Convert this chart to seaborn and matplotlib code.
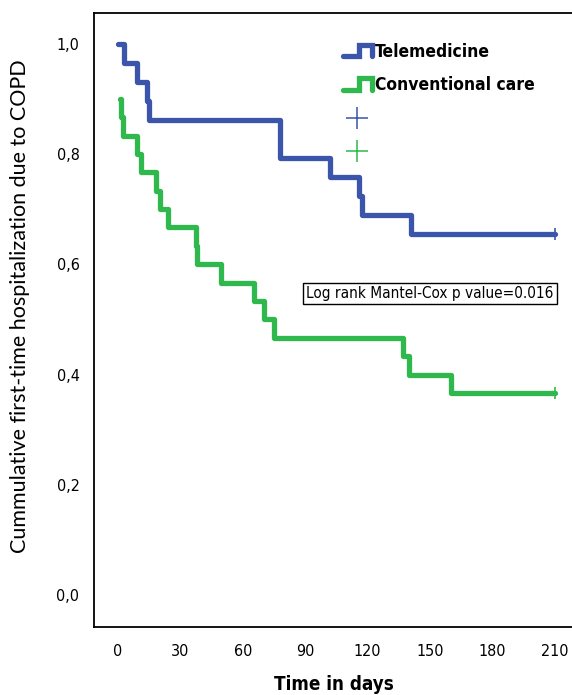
import numpy as np
import pandas as pd
import matplotlib
matplotlib.use("Agg")
import matplotlib.pyplot as plt
import seaborn as sns
from matplotlib.lines import Line2D
from matplotlib.legend_handler import HandlerBase

# Kaplan-Meier step values
tele_days = [0, 3, 9, 14, 15, 78, 102, 116, 117.5, 141, 210]
tele_surv = [1.0, 0.966, 0.931, 0.897, 0.862, 0.793, 0.759, 0.724, 0.690, 0.655, 0.655]
conv_days = [1, 1.5, 2.5, 9, 11, 18, 20, 24, 37.5, 38, 49.5, 65.5, 70, 75, 137, 140, 160, 210]
conv_surv = [0.9, 0.867, 0.833, 0.8, 0.767, 0.733, 0.7, 0.667, 0.633, 0.6, 0.567,
             0.533, 0.5, 0.467, 0.433, 0.4, 0.367, 0.367]
groups = ["Telemedicine", "Conventional care"]
colors = ["#3b55aa", "#2fb84b"]
x_ticks = [0, 30, 60, 90, 120, 150, 180, 210]
y_ticks = [0.0, 0.2, 0.4, 0.6, 0.8, 1.0]
y_ticklabels = ["0,0", "0,2", "0,4", "0,6", "0,8", "1,0"]
pvalue_text = "Log rank Mantel-Cox p value=0.016"

df = pd.concat([
    pd.DataFrame({"day": tele_days, "surv": tele_surv, "group": groups[0]}),
    pd.DataFrame({"day": conv_days, "surv": conv_surv, "group": groups[1]}),
])

sns.set_style("white")
narrow = ["DejaVu Sans"]


class StepHandler(HandlerBase):
    # legend icon drawn as a small step, like the SPSS output
    def create_artists(self, legend, orig_handle, xdescent, ydescent,
                       width, height, fontsize, trans):
        x0, y0 = -xdescent, -ydescent
        xs = np.array([0, 0.55, 0.55, 1.0, 1.0]) * width + x0
        ys = np.array([0.05, 0.05, 1.0, 1.0, 0.05]) * height + y0
        ln = Line2D(xs, ys, color=orig_handle.get_color(),
                    lw=orig_handle.get_linewidth(), solid_joinstyle="miter")
        ln.set_transform(trans)
        return [ln]


fig = plt.figure(figsize=(5.72, 6.95), dpi=100)
ax = fig.add_axes([0.1643, 0.0978, 0.84, 0.8835])

sns.lineplot(data=df, x="day", y="surv", hue="group", palette=colors,
             estimator=None, drawstyle="steps-post", linewidth=3.8,
             legend=False, ax=ax)

# censor marks at end of follow-up
ax.plot([tele_days[-1]], [tele_surv[-1]], marker="|", ms=9, mew=1.2, color=colors[0])
ax.plot([conv_days[-1]], [conv_surv[-1]], marker="|", ms=9, mew=1.2, color=colors[1])

ax.set_xlim(-11.6, 219.5)
ax.set_ylim(-0.058, 1.056)
ax.set_xticks(x_ticks)
ax.set_xticklabels([str(t) for t in x_ticks], family=narrow, stretch="condensed", fontsize=11.5)
ax.set_yticks(y_ticks)
ax.set_yticklabels(y_ticklabels, family=narrow, stretch="condensed", fontsize=11.5)
ax.tick_params(axis="both", direction="out", length=6.5, width=1.2, color="black",
               pad=4, labelcolor="black")
ax.tick_params(axis="x", pad=6)
for side in ["left", "bottom", "top"]:
    ax.spines[side].set_color("black")
    ax.spines[side].set_linewidth(1.3)
ax.spines["right"].set_visible(False)

ax.set_xlabel("Time in days", family=narrow, stretch="condensed", fontsize=13.5,
              fontweight="bold", labelpad=11, color="black")
ax.set_ylabel("Cummulative first-time hospitalization due to COPD",
              family=["Lato", "DejaVu Sans"], fontsize=15.5, color="black")
ax.yaxis.set_label_coords(-0.133, 0.523)

ax.text(90.5, 0.547, pvalue_text, family=narrow, stretch="condensed", fontsize=11,
        va="center", ha="left", color="black",
        bbox=dict(boxstyle="square,pad=0.2", fc="white", ec="black", lw=1))

handles = [Line2D([], [], color=colors[0], lw=3.8),
           Line2D([], [], color=colors[1], lw=3.8),
           Line2D([], [], color=colors[0], marker="+", ms=16, mew=1.1, ls="none"),
           Line2D([], [], color=colors[1], marker="+", ms=16, mew=1.1, ls="none")]
labels = groups + ["", ""]
leg = ax.legend(handles, labels, loc="upper left", bbox_to_anchor=(0.504, 0.963),
                frameon=False, handlelength=1.65, handletextpad=0.2,
                labelspacing=0.9, borderaxespad=0,
                handler_map={handles[0]: StepHandler(), handles[1]: StepHandler()},
                prop={"family": narrow, "stretch": "condensed", "size": 12.5, "weight": "bold"})
for t in leg.get_texts():
    t.set_color("black")

fig.savefig("out.png", dpi=100)
